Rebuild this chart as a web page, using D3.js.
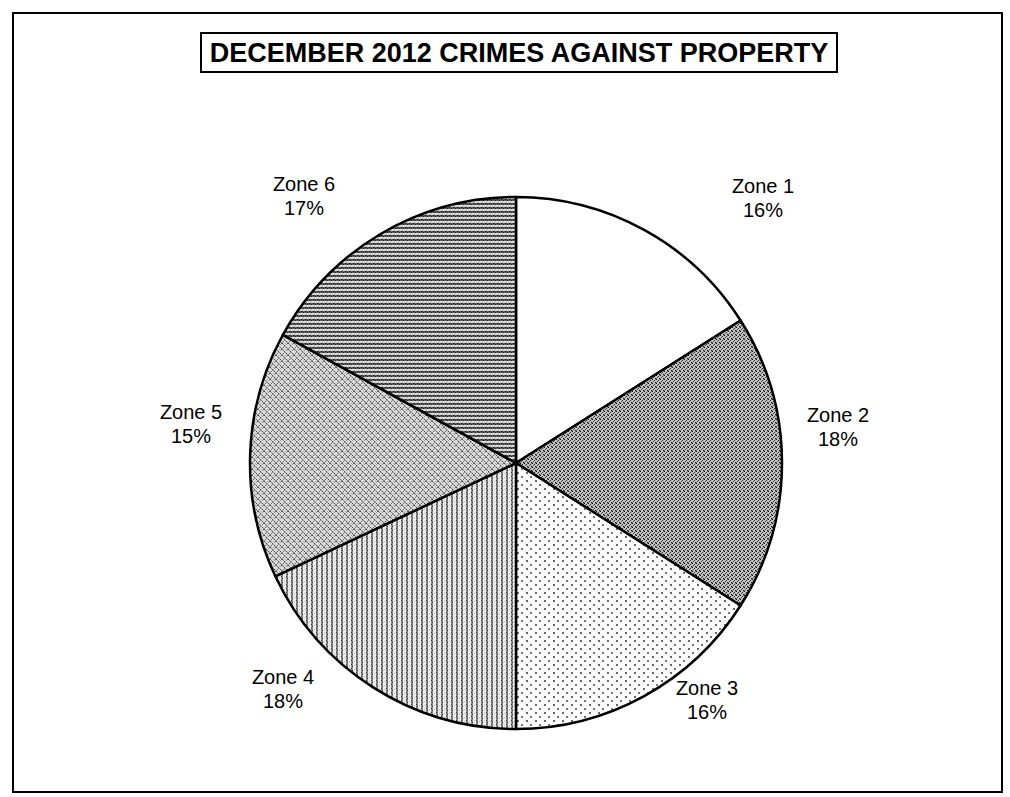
<!DOCTYPE html>
<html>
<head>
<meta charset="utf-8">
<script src="https://cdn.jsdelivr.net/npm/d3@7"></script>
<style>
  body { margin: 0; background: #fff; }
  svg text { font-family: "Liberation Sans", Arial, sans-serif; fill: #000; }
</style>
</head>
<body>
<svg id="chart" width="1010" height="797"></svg>
<script>
// chart data
var zones = ["Zone 1", "Zone 2", "Zone 3", "Zone 4", "Zone 5", "Zone 6"];
var percents = [16, 18, 16, 18, 15, 17];
var title = "DECEMBER 2012 CRIMES AGAINST PROPERTY";

// where each label sits (label layout, not data)
var labelAnchors = [[763, 186], [838, 415], [707, 688], [283, 677], [191, 412], [304, 184]];

var svg = d3.select("#chart");
var cx = 516, cy = 463, radius = 266;

var defs = svg.append("defs");

// zone 1 is plain white, the others get a print-style fill
function makePattern(id, w, h, bg, draw) {
    var p = defs.append("pattern")
        .attr("id", id)
        .attr("patternUnits", "userSpaceOnUse")
        .attr("width", w)
        .attr("height", h);
    p.append("rect").attr("width", w).attr("height", h).attr("fill", bg);
    draw(p);
}

function px(p, x, y, c, w, h) {
    p.append("rect").attr("x", x).attr("y", y)
        .attr("width", w || 1).attr("height", h || 1).attr("fill", c);
}

// dense dark stipple
makePattern("pat2", 4, 4, "#c4c4c4", function (p) {
    px(p, 0, 0, "#111"); px(p, 2, 1, "#222"); px(p, 1, 2, "#555");
    px(p, 3, 3, "#111"); px(p, 3, 0, "#888"); px(p, 0, 3, "#777");
});
// sparse small dots on white
makePattern("pat3", 9, 8, "#fff", function (p) {
    px(p, 1, 1, "#666", 2, 2);
    px(p, 5, 5, "#777", 2, 2);
});
// vertical stripes
makePattern("pat4", 5, 4, "#ececec", function (p) {
    px(p, 0, 0, "#8a8a8a", 2, 4);
    px(p, 0, 1, "#333"); px(p, 1, 3, "#333");
    px(p, 3, 2, "#bbb");
});
// diagonal lattice stipple
makePattern("pat5", 6, 6, "#dadada", function (p) {
    px(p, 0, 0, "#444"); px(p, 1, 1, "#888"); px(p, 2, 2, "#444");
    px(p, 3, 3, "#888"); px(p, 4, 4, "#444"); px(p, 5, 5, "#888");
    px(p, 5, 0, "#666"); px(p, 4, 1, "#999"); px(p, 2, 3, "#999");
    px(p, 1, 4, "#666"); px(p, 0, 5, "#999"); px(p, 3, 0, "#aaa");
});
// horizontal stripes
makePattern("pat6", 4, 4, "#dcdcdc", function (p) {
    px(p, 0, 0, "#5a5a5a", 4, 2);
    px(p, 1, 0, "#111"); px(p, 3, 1, "#222");
    px(p, 2, 3, "#999");
});

var fills = ["#fff", "url(#pat2)", "url(#pat3)", "url(#pat4)", "url(#pat5)", "url(#pat6)"];

// outer frame
svg.append("rect")
    .attr("x", 13).attr("y", 13)
    .attr("width", 989).attr("height", 779)
    .attr("fill", "none")
    .attr("stroke", "#000")
    .attr("stroke-width", 2);

// title box
svg.append("rect")
    .attr("x", 201).attr("y", 33)
    .attr("width", 636).attr("height", 39)
    .attr("fill", "none")
    .attr("stroke", "#000")
    .attr("stroke-width", 2);

svg.append("text")
    .attr("x", 519).attr("y", 62)
    .attr("text-anchor", "middle")
    .style("font-size", "27px")
    .style("font-weight", "bold")
    .text(title);

var pie = d3.pie().sort(null).value(function (d) { return d; });
var arc = d3.arc().innerRadius(0).outerRadius(radius);

var g = svg.append("g").attr("transform", "translate(" + cx + "," + cy + ")");

g.selectAll("path")
    .data(pie(percents))
    .enter()
    .append("path")
    .attr("d", arc)
    .attr("fill", function (d, i) { return fills[i]; })
    .attr("stroke", "#000")
    .attr("stroke-width", 2.5)
    .attr("stroke-linejoin", "round");

var labels = svg.selectAll("text.lbl")
    .data(zones)
    .enter()
    .append("text")
    .attr("class", "lbl")
    .attr("text-anchor", "middle")
    .style("font-size", "20px")
    .attr("transform", function (d, i) {
        return "translate(" + labelAnchors[i][0] + "," + labelAnchors[i][1] + ")";
    });

labels.append("tspan").attr("x", 0).attr("y", 7).text(function (d) { return d; });
labels.append("tspan").attr("x", 0).attr("y", 31).text(function (d, i) { return percents[i] + "%"; });
</script>
</body>
</html>
